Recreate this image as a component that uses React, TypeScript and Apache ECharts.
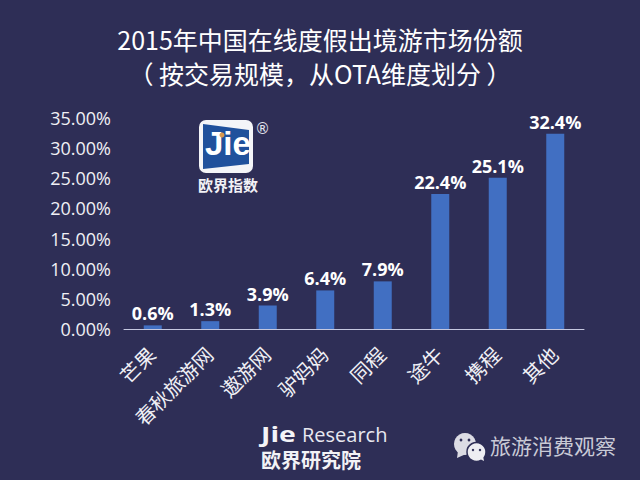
import React, { useEffect, useRef } from "react";
import * as echarts from "echarts";

const categories = ["芒果", "春秋旅游网", "遨游网", "驴妈妈", "同程", "途牛", "携程", "其他"];
const shares = [0.6, 1.3, 3.9, 6.4, 7.9, 22.4, 25.1, 32.4];
const titleLines = ["2015年中国在线度假出境游市场份额", "（ 按交易规模，从OTA维度划分 ）"];

const BG = "#2e2e56";
const CJK = '"Noto Sans CJK SC", "Noto Sans", sans-serif';
const LATIN = '"Open Sans", "Noto Sans CJK SC", sans-serif';

export default function App() {
  const ref = useRef<HTMLDivElement>(null);
  useEffect(() => {
    document.body.style.margin = "0";
    const chart = echarts.init(ref.current!, null, { renderer: "svg" });
    chart.setOption({
      animation: false,
      backgroundColor: BG,
      title: {
        text: titleLines.join("\n"),
        left: "center",
        top: 17,
        textStyle: { color: "#ffffff", fontSize: 25, fontWeight: "normal", fontFamily: CJK, lineHeight: 34 },
      },
      grid: { left: 124, right: 56, top: 118, bottom: 151 },
      xAxis: {
        type: "category",
        data: categories,
        axisLine: { lineStyle: { color: "#c5c8e0", width: 1 } },
        axisTick: { show: false },
        axisLabel: {
          color: "#f0f0f5",
          fontSize: 20,
          fontFamily: CJK,
          rotate: 45,
          margin: 20,
          interval: 0,
          padding: [0, 2, 10, 0],
        },
      },
      yAxis: {
        type: "value",
        min: 0,
        max: 35,
        interval: 5,
        axisLine: { show: false },
        axisTick: { show: false },
        splitLine: { show: false },
        axisLabel: {
          color: "#f0f0f5",
          fontSize: 18,
          fontFamily: LATIN,
          margin: 13,
          formatter: (v: number) => v.toFixed(2) + "%",
        },
      },
      series: [
        {
          type: "bar",
          data: shares,
          barWidth: 18,
          itemStyle: { color: "#416fc2" },
          label: {
            show: true,
            position: "top",
            distance: 3,
            color: "#ffffff",
            fontSize: 18,
            fontWeight: "bold",
            fontFamily: LATIN,
            formatter: (p: any) => p.value.toFixed(1) + "%",
          },
        },
      ],
      graphic: [
        { type: "rect", shape: { x: 199, y: 120, width: 54, height: 53, r: 7 }, style: { fill: "#f4f5f8" } },
        { type: "polygon", shape: { points: [[203, 124], [249, 130], [249, 164], [203, 169]] }, style: { fill: "#20519c" } },
        { type: "text", x: 205, y: 127, style: { text: "Jie", fill: "#ffffff", font: 'bold 33px "Liberation Sans", sans-serif' } },
        { type: "circle", shape: { cx: 222, cy: 135, r: 2.5 }, style: { fill: "#d99a4e" } },
        { type: "text", x: 255, y: 121, style: { text: "®", fill: "#e4e4ee", font: '15px "DejaVu Sans", sans-serif' } },
        { type: "text", x: 198, y: 177, style: { text: "欧界指数", fill: "#f2f2f6", font: `bold 15px ${CJK}` } },
        { type: "text", x: 261, y: 423, scaleX: 1.35, style: { text: "Jie", fill: "#f4f4f8", font: 'bold 21px "Open Sans", sans-serif' } },
        { type: "text", x: 302, y: 424, style: { text: "Research", fill: "#e8e8f0", font: '20px "Open Sans", sans-serif' } },
        { type: "text", x: 261, y: 449, style: { text: "欧界研究院", fill: "#f2f2f6", font: `bold 20px ${CJK}` } },
        { type: "circle", shape: { cx: 465, cy: 444, r: 11 }, style: { fill: "#dcdce4" } },
        { type: "polygon", shape: { points: [[458, 451], [457, 458], [466, 454]] }, style: { fill: "#dcdce4" } },
        { type: "circle", shape: { cx: 476.5, cy: 452, r: 9.5 }, style: { fill: "#eeeef2", stroke: BG, lineWidth: 1.5 } },
        { type: "polygon", shape: { points: [[480, 459], [484, 461], [483, 456]] }, style: { fill: "#eeeef2" } },
        { type: "circle", shape: { cx: 461, cy: 440, r: 1.4 }, style: { fill: BG } },
        { type: "circle", shape: { cx: 469, cy: 440, r: 1.4 }, style: { fill: BG } },
        { type: "circle", shape: { cx: 473, cy: 450, r: 1.2 }, style: { fill: BG } },
        { type: "circle", shape: { cx: 480, cy: 450, r: 1.2 }, style: { fill: BG } },
        { type: "text", x: 490, y: 434, style: { text: "旅游消费观察", fill: "#c9cad6", font: `21px ${CJK}` } },
      ],
    });
    return () => chart.dispose();
  }, []);
  return <div ref={ref} style={{ width: 640, height: 480 }} />;
}
